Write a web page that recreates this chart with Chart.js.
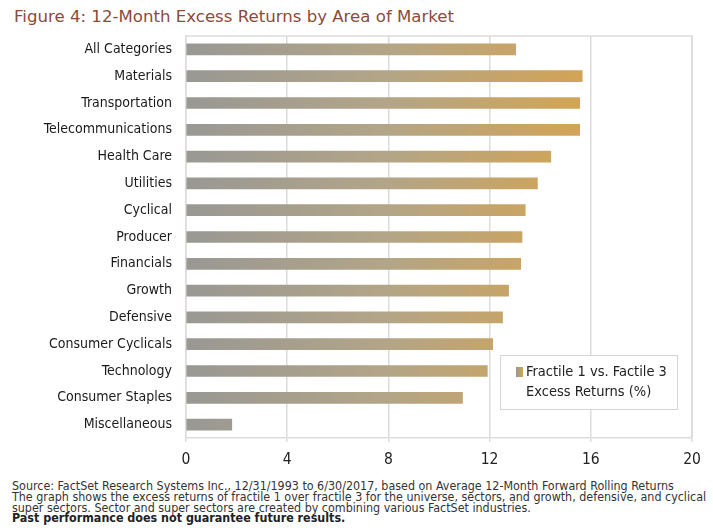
<!DOCTYPE html>
<html>
<head>
<meta charset="utf-8">
<script src="https://cdn.jsdelivr.net/npm/chart.js@4.4.1/dist/chart.umd.min.js"></script>
<style>
    body { margin: 0; background: #fff; width: 713px; height: 531px; position: relative; overflow: hidden; }
    #title { position: absolute; left: 14px; top: 7px; font-family: "DejaVu Sans", sans-serif; font-size: 16.6px; color: #8a4b3c; white-space: nowrap; }
    #chartWrap { position: absolute; left: 0; top: 28px; width: 713px; height: 448px; }
    #notes { position: absolute; left: 12px; top: 481px; font-family: "DejaVu Sans Condensed", "DejaVu Sans", sans-serif; font-size: 12.4px; line-height: 10.8px; color: #333; white-space: nowrap; }
    #notes b { color: #222; }
</style>
</head>
<body>
<div id="title">Figure 4: 12-Month Excess Returns by Area of Market</div>
<div id="chartWrap"><canvas id="returnsChart"></canvas></div>
<div id="notes">
    Source: FactSet Research Systems Inc., 12/31/1993 to 6/30/2017, based on Average 12-Month Forward Rolling Returns<br>
    The graph shows the excess returns of fractile 1 over fractile 3 for the universe, sectors, and growth, defensive, and cyclical<br>
    super sectors. Sector and super sectors are created by combining various FactSet industries.<br>
    <b>Past performance does not guarantee future results.</b>
</div>
<script>
const categories = [
    'All Categories', 'Materials', 'Transportation', 'Telecommunications', 'Health Care',
    'Utilities', 'Cyclical', 'Producer', 'Financials', 'Growth', 'Defensive',
    'Consumer Cyclicals', 'Technology', 'Consumer Staples', 'Miscellaneous'
];
const excessReturns = [13.03, 15.66, 15.56, 15.56, 14.42, 13.89, 13.41, 13.28, 13.23, 12.75, 12.51, 12.12, 11.91, 10.93, 1.81];
const seriesLabel = 'Fractile 1 vs. Factile 3 Excess Returns (%)';
const xTicks = [0, 4, 8, 12, 16, 20];

const labelFont = '"Liberation Sans Narrow", "DejaVu Sans Condensed", sans-serif';

function barGradient(ctx) {
    const chart = ctx.chart;
    if (!chart.chartArea) return '#a8a08c';
    const x0 = chart.scales.x.getPixelForValue(0);
    const x1 = chart.scales.x.getPixelForValue(16);
    const g = chart.ctx.createLinearGradient(x0, 0, x1, 0);
    g.addColorStop(0, '#999894');
    g.addColorStop(0.5, '#b3a587');
    g.addColorStop(1, '#d4a453');
    return g;
}

// legend box drawn inside the plot, bottom right
const legendBox = {
    id: 'legendBox',
    afterDraw(chart) {
        const c = chart.ctx;
        const a = chart.chartArea;
        const xs = chart.scales.x;
        const left = Math.round(xs.getPixelForValue(12.4));
        const right = Math.round(xs.getPixelForValue(19.4));
        const top = Math.round(a.bottom - 83);
        const bottom = Math.round(a.bottom - 29);
        c.save();
        c.fillStyle = '#fff';
        c.fillRect(left, top, right - left, bottom - top);
        c.strokeStyle = '#d6d6d6';
        c.lineWidth = 1;
        c.strokeRect(left + 0.5, top + 0.5, right - left, bottom - top);
        const g = c.createLinearGradient(left + 16, 0, left + 23, 0);
        g.addColorStop(0, '#999894');
        g.addColorStop(1, '#d4a453');
        c.fillStyle = g;
        c.fillRect(left + 16, top + 12, 7, 10);
        c.fillStyle = '#222';
        c.font = '14.5px ' + labelFont;
        c.textBaseline = 'middle';
        const parts = seriesLabel.split(' Excess');
        c.fillText(parts[0], left + 26, top + 17);
        c.fillText('Excess' + parts[1], left + 26, top + 37);
        c.restore();
    }
};

const chart = new Chart(document.getElementById('returnsChart'), {
    type: 'bar',
    data: {
        labels: categories,
        datasets: [{
            label: seriesLabel,
            data: excessReturns,
            backgroundColor: barGradient,
            borderWidth: 0,
            barThickness: 11
        }]
    },
    options: {
        indexAxis: 'y',
        responsive: true,
        maintainAspectRatio: false,
        animation: false,
        layout: { padding: { left: 0, right: 21, top: 8, bottom: 0 } },
        plugins: {
            legend: { display: false },
            tooltip: { enabled: false }
        },
        scales: {
            x: {
                min: 0,
                max: 20,
                afterBuildTicks(scale) {
                    scale.ticks = xTicks.map(v => ({ value: v }));
                },
                afterFit(scale) {
                    scale.height = 38;
                    scale.paddingLeft = 0;
                    scale.paddingRight = 0;
                },
                grid: { color: '#dcdcdc', lineWidth: 1.5, tickLength: 4 },
                border: { display: true, color: '#dcdcdc', width: 1.5 },
                ticks: { color: '#222', padding: 9, font: { family: labelFont, size: 15.5 } }
            },
            y: {
                afterFit(scale) {
                    scale.width = 186;
                    scale.paddingTop = 0;
                    scale.paddingBottom = 0;
                },
                grid: { display: false },
                border: { display: true, color: '#dcdcdc', width: 1.5 },
                ticks: { color: '#1a1a1a', padding: 6, font: { family: labelFont, size: 14 } }
            }
        }
    },
    plugins: [legendBox, {
        id: 'frame',
        afterDraw(chart) {
            const a = chart.chartArea;
            const c = chart.ctx;
            c.save();
            c.strokeStyle = '#dcdcdc';
            c.lineWidth = 1.5;
            c.beginPath();
            c.moveTo(a.left, a.top);
            c.lineTo(a.right, a.top);
            c.lineTo(a.right, a.bottom);
            c.stroke();
            c.restore();
        }
    }]
});
</script>
</body>
</html>
